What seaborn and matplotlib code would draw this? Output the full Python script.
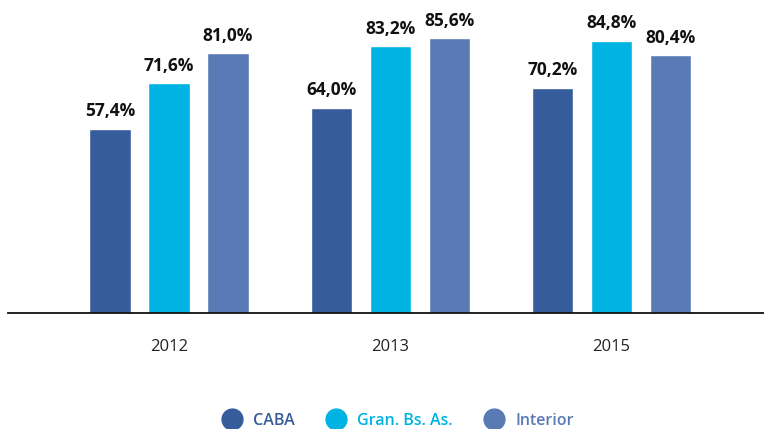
import numpy as np
import pandas as pd
import matplotlib.pyplot as plt
import seaborn as sns
from matplotlib.lines import Line2D

years = ['2012', '2013', '2015']
regions = ['CABA', 'Gran. Bs. As.', 'Interior']
caba = [57.4, 64.0, 70.2]
gran_bsas = [71.6, 83.2, 84.8]
interior = [81.0, 85.6, 80.4]
colors = ['#365c9b', '#00b3e3', '#5a7ab6']

df = pd.DataFrame({
    'year': years * 3,
    'region': [r for r in regions for _ in years],
    'value': caba + gran_bsas + interior,
})

sns.set_style('white')
plt.rcParams['font.family'] = ['Open Sans', 'DejaVu Sans']

fig = plt.figure(figsize=(7.64, 4.29), dpi=100)
ax = fig.add_axes([8 / 764, 116 / 429, 1 - 8 / 764, 313 / 429])

sns.barplot(data=df, x='year', y='value', hue='region', palette=colors,
            saturation=1, width=0.8, gap=0.3, ax=ax, legend=False)

for cont in ax.containers:
    ax.bar_label(cont, labels=[f'{v:.1f}%'.replace('.', ',') for v in cont.datavalues],
                 padding=6, fontsize=12.5, fontweight='bold', color='#111111')

ax.set_xlim(-0.728, 2.69)
ax.set_ylim(0, 97.5)
ax.set_xlabel('')
ax.set_ylabel('')
ax.set_yticks([])
for s in ['top', 'right', 'left']:
    ax.spines[s].set_visible(False)
ax.spines['bottom'].set_color('#111111')
ax.spines['bottom'].set_linewidth(1.3)
ax.tick_params(axis='x', length=0, pad=19, labelsize=12, labelcolor='#222222')

handles = [Line2D([], [], marker='o', linestyle='', markersize=15, color=c) for c in colors]
leg = fig.legend(handles, regions, loc='center', bbox_to_anchor=(395 / 764, 1 - 421 / 429),
                 ncol=3, frameon=False, handletextpad=0.3, columnspacing=1.6,
                 prop={'weight': 'semibold', 'size': 11.5})
for t, c in zip(leg.get_texts(), colors):
    t.set_color(c)

fig.savefig('out.png', dpi=100)
